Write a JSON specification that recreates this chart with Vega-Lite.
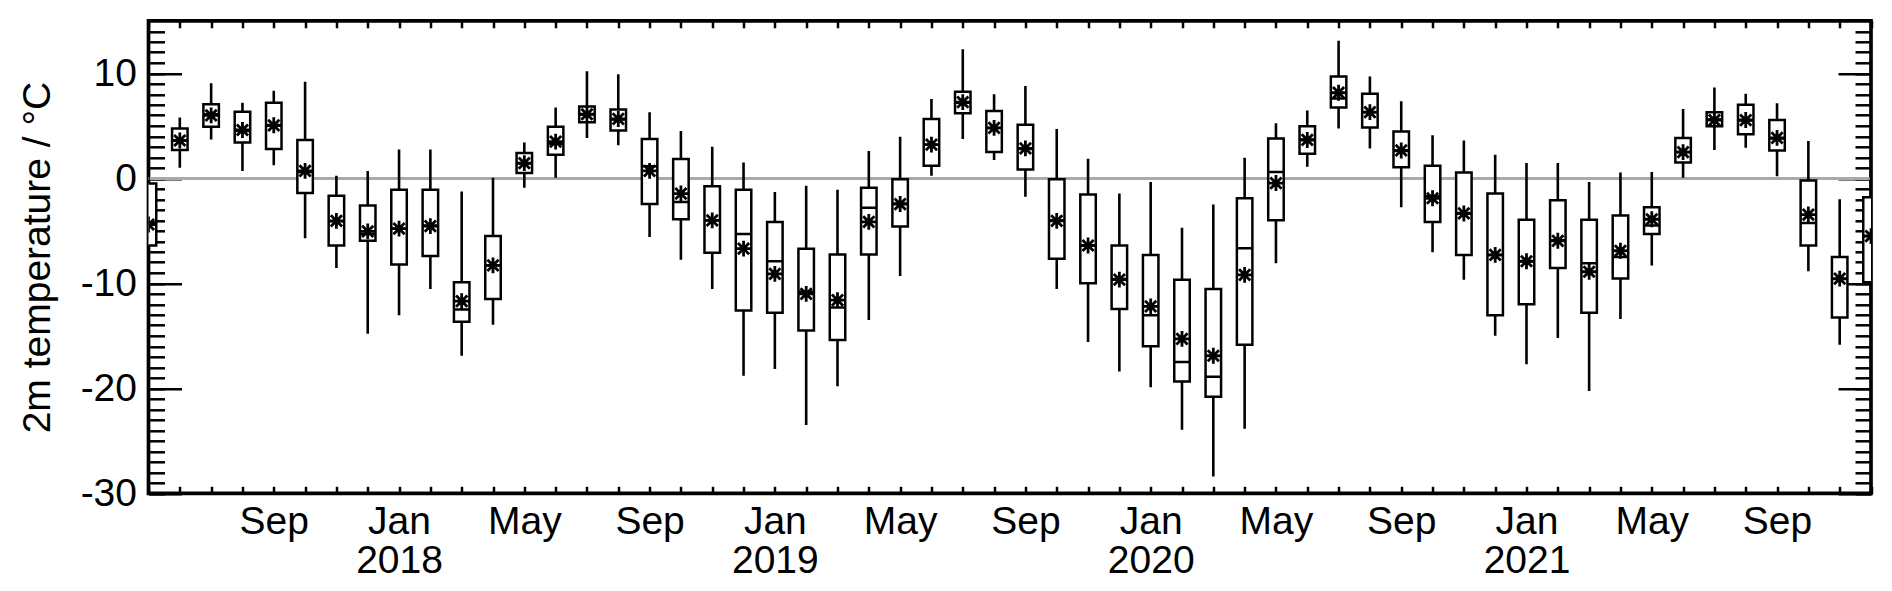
{
  "$schema": "https://vega.github.io/schema/vega-lite/v6.json",
  "autosize": {"type": "none"},
  "padding": {"left": 148.5, "top": 20.8, "right": 21, "bottom": 97.2},
  "width": 1722.5,
  "height": 472.5,
  "background": "white",
  "config": {
    "view": {"stroke": "black", "strokeWidth": 3.7},
    "axis": {
      "labelFont": "Liberation Sans", "titleFont": "Liberation Sans",
      "labelColor": "black", "titleColor": "black", "tickColor": "black",
      "tickWidth": 2.5, "domain": false, "grid": false, "zindex": 1,
      "labelFontSize": 39, "titleFontSize": 39, "titleFontWeight": "normal"
    }
  },
  "data": {"values": [
    {"month": "2017-05", "min": -9.5, "q1": -6.4, "median": -4.2, "q3": -0.5, "max": 1.2, "mean": -4.4},
    {"month": "2017-06", "min": 1.0, "q1": 2.7, "median": 3.6, "q3": 4.75, "max": 5.8, "mean": 3.6},
    {"month": "2017-07", "min": 3.7, "q1": 4.9, "median": 6.1, "q3": 7.05, "max": 9.05, "mean": 6.0},
    {"month": "2017-08", "min": 0.7, "q1": 3.4, "median": 4.5, "q3": 6.35, "max": 7.2, "mean": 4.6},
    {"month": "2017-09", "min": 1.25, "q1": 2.8, "median": 5.0, "q3": 7.2, "max": 8.35, "mean": 5.05},
    {"month": "2017-10", "min": -5.7, "q1": -1.4, "median": 0.6, "q3": 3.65, "max": 9.2, "mean": 0.7},
    {"month": "2017-11", "min": -8.55, "q1": -6.4, "median": -4.1, "q3": -1.65, "max": 0.25, "mean": -4.05},
    {"month": "2017-12", "min": -14.8, "q1": -5.95, "median": -5.3, "q3": -2.6, "max": 0.7, "mean": -5.05},
    {"month": "2018-01", "min": -13.05, "q1": -8.2, "median": -4.8, "q3": -1.1, "max": 2.75, "mean": -4.8},
    {"month": "2018-02", "min": -10.55, "q1": -7.4, "median": -4.5, "q3": -1.1, "max": 2.75, "mean": -4.55},
    {"month": "2018-03", "min": -16.9, "q1": -13.65, "median": -12.5, "q3": -9.9, "max": -1.25, "mean": -11.7},
    {"month": "2018-04", "min": -13.95, "q1": -11.5, "median": -8.3, "q3": -5.5, "max": 0.05, "mean": -8.3},
    {"month": "2018-05", "min": -0.9, "q1": 0.5, "median": 1.4, "q3": 2.4, "max": 3.4, "mean": 1.45},
    {"month": "2018-06", "min": 0.05, "q1": 2.25, "median": 3.3, "q3": 4.9, "max": 6.75, "mean": 3.5},
    {"month": "2018-07", "min": 3.85, "q1": 5.35, "median": 6.1, "q3": 6.85, "max": 10.2, "mean": 6.1},
    {"month": "2018-08", "min": 3.15, "q1": 4.55, "median": 5.6, "q3": 6.55, "max": 9.9, "mean": 5.65},
    {"month": "2018-09", "min": -5.6, "q1": -2.45, "median": 1.15, "q3": 3.75, "max": 6.3, "mean": 0.7},
    {"month": "2018-10", "min": -7.75, "q1": -3.9, "median": -2.25, "q3": 1.85, "max": 4.5, "mean": -1.45},
    {"month": "2018-11", "min": -10.55, "q1": -7.1, "median": -4.0, "q3": -0.75, "max": 3.0, "mean": -4.0},
    {"month": "2018-12", "min": -18.8, "q1": -12.6, "median": -5.3, "q3": -1.1, "max": 1.5, "mean": -6.7},
    {"month": "2019-01", "min": -18.15, "q1": -12.8, "median": -7.9, "q3": -4.15, "max": -1.3, "mean": -9.1},
    {"month": "2019-02", "min": -23.5, "q1": -14.5, "median": -10.8, "q3": -6.7, "max": -0.7, "mean": -11.0},
    {"month": "2019-03", "min": -19.8, "q1": -15.4, "median": -12.3, "q3": -7.25, "max": -1.1, "mean": -11.6},
    {"month": "2019-04", "min": -13.5, "q1": -7.25, "median": -2.8, "q3": -0.9, "max": 2.6, "mean": -4.15},
    {"month": "2019-05", "min": -9.3, "q1": -4.6, "median": -2.4, "q3": -0.1, "max": 3.95, "mean": -2.45},
    {"month": "2019-06", "min": 0.25, "q1": 1.2, "median": 3.2, "q3": 5.65, "max": 7.55, "mean": 3.2},
    {"month": "2019-07", "min": 3.75, "q1": 6.2, "median": 7.2, "q3": 8.25, "max": 12.3, "mean": 7.25},
    {"month": "2019-08", "min": 1.75, "q1": 2.5, "median": 4.8, "q3": 6.4, "max": 8.0, "mean": 4.8},
    {"month": "2019-09", "min": -1.75, "q1": 0.85, "median": 2.8, "q3": 5.1, "max": 8.8, "mean": 2.85},
    {"month": "2019-10", "min": -10.55, "q1": -7.65, "median": -4.0, "q3": -0.1, "max": 4.7, "mean": -4.05},
    {"month": "2019-11", "min": -15.6, "q1": -10.0, "median": -6.4, "q3": -1.55, "max": 1.85, "mean": -6.4},
    {"month": "2019-12", "min": -18.4, "q1": -12.45, "median": -9.6, "q3": -6.4, "max": -1.45, "mean": -9.65},
    {"month": "2020-01", "min": -19.9, "q1": -16.0, "median": -13.05, "q3": -7.3, "max": -0.35, "mean": -12.2},
    {"month": "2020-02", "min": -23.95, "q1": -19.35, "median": -17.5, "q3": -9.65, "max": -4.7, "mean": -15.3},
    {"month": "2020-03", "min": -28.4, "q1": -20.8, "median": -18.9, "q3": -10.55, "max": -2.5, "mean": -16.9},
    {"month": "2020-04", "min": -23.85, "q1": -15.85, "median": -6.65, "q3": -1.9, "max": 1.95, "mean": -9.2},
    {"month": "2020-05", "min": -8.1, "q1": -4.0, "median": 0.6, "q3": 3.8, "max": 5.25, "mean": -0.45},
    {"month": "2020-06", "min": 1.1, "q1": 2.35, "median": 3.7, "q3": 4.95, "max": 6.45, "mean": 3.65},
    {"month": "2020-07", "min": 4.75, "q1": 6.75, "median": 7.6, "q3": 9.7, "max": 13.1, "mean": 8.15},
    {"month": "2020-08", "min": 2.85, "q1": 4.85, "median": 6.3, "q3": 8.05, "max": 9.7, "mean": 6.3},
    {"month": "2020-09", "min": -2.75, "q1": 1.05, "median": 2.6, "q3": 4.45, "max": 7.35, "mean": 2.65},
    {"month": "2020-10", "min": -7.05, "q1": -4.15, "median": -1.7, "q3": 1.2, "max": 4.1, "mean": -1.9},
    {"month": "2020-11", "min": -9.65, "q1": -7.3, "median": -3.3, "q3": 0.55, "max": 3.6, "mean": -3.35},
    {"month": "2020-12", "min": -15.0, "q1": -13.05, "median": -7.3, "q3": -1.45, "max": 2.25, "mean": -7.3},
    {"month": "2021-01", "min": -17.7, "q1": -12.0, "median": -7.9, "q3": -3.95, "max": 1.45, "mean": -7.9},
    {"month": "2021-02", "min": -15.2, "q1": -8.55, "median": -5.9, "q3": -2.1, "max": 1.45, "mean": -5.95},
    {"month": "2021-03", "min": -20.25, "q1": -12.8, "median": -8.1, "q3": -3.95, "max": -0.35, "mean": -8.9},
    {"month": "2021-04", "min": -13.4, "q1": -9.55, "median": -7.5, "q3": -3.55, "max": 0.55, "mean": -6.9},
    {"month": "2021-05", "min": -8.3, "q1": -5.3, "median": -4.5, "q3": -2.75, "max": 0.6, "mean": -3.9},
    {"month": "2021-06", "min": 0.05, "q1": 1.5, "median": 2.5, "q3": 3.85, "max": 6.6, "mean": 2.5},
    {"month": "2021-07", "min": 2.7, "q1": 4.95, "median": 5.6, "q3": 6.3, "max": 8.65, "mean": 5.55},
    {"month": "2021-08", "min": 2.9, "q1": 4.2, "median": 5.5, "q3": 7.0, "max": 8.05, "mean": 5.55},
    {"month": "2021-09", "min": 0.2, "q1": 2.65, "median": 3.8, "q3": 5.55, "max": 7.15, "mean": 3.85},
    {"month": "2021-10", "min": -8.85, "q1": -6.4, "median": -4.25, "q3": -0.2, "max": 3.55, "mean": -3.45},
    {"month": "2021-11", "min": -15.85, "q1": -13.25, "median": -9.6, "q3": -7.5, "max": -2.0, "mean": -9.55},
    {"month": "2021-12", "min": -12.5, "q1": -9.9, "median": -5.5, "q3": -1.8, "max": 0.5, "mean": -5.5}
  ]},
  "resolve": {
    "scale": {"x": "shared", "y": "shared"},
    "axis": {"x": "independent", "y": "independent"}
  },
  "layer": [
    {
      "mark": {"type": "rule", "color": "#a9a9a9", "strokeWidth": 2.5},
      "encoding": {
        "y": {"datum": 0, "type": "quantitative", "axis": null,
              "scale": {"domain": [-30, 15], "nice": false, "zero": false}}
      }
    },
    {
      "mark": {"type": "rule", "color": "black", "strokeWidth": 2.6, "clip": true},
      "encoding": {
        "x": {"field": "month", "type": "ordinal", "sort": "ascending",
              "scale": {"type": "point", "padding": 0},
              "axis": {"orient": "bottom", "title": null, "tickSize": -7, "labelPadding": 16,
                       "labelAngle": 0, "labelOverlap": false, "labelBound": false, "labelFlush": false,
                       "labelLineHeight": 39,
                       "labelExpr": "datum.value == '2017-05' ? '' : slice(datum.value,5)=='09' ? 'Sep' : slice(datum.value,5)=='05' ? 'May' : slice(datum.value,5)=='01' ? ['Jan', slice(datum.value,0,4)] : ''"}},
        "y": {"field": "min", "type": "quantitative",
              "scale": {"domain": [-30, 15], "nice": false, "zero": false},
              "axis": {"orient": "left", "values": [-30, -20, -10, 0, 10], "tickSize": -33,
                       "labelPadding": 45, "labelExpr": "'' + datum.value",
                       "title": "2m temperature / °C", "titlePadding": 23}},
        "y2": {"field": "max"}
      }
    },
    {
      "mark": {"type": "bar", "fill": "white", "stroke": "black", "strokeWidth": 2.5, "size": 15.5, "clip": true},
      "encoding": {
        "x": {"field": "month", "type": "ordinal",
              "axis": {"orient": "top", "title": null, "tickSize": -7, "labels": false}},
        "y": {"field": "q1", "type": "quantitative",
              "axis": {"orient": "left", "title": null, "tickSize": -16, "labels": false,
                       "values": [-30,-29,-28,-27,-26,-25,-24,-23,-22,-21,-20,-19,-18,-17,-16,-15,-14,-13,-12,-11,-10,-9,-8,-7,-6,-5,-4,-3,-2,-1,0,1,2,3,4,5,6,7,8,9,10,11,12,13,14]}},
        "y2": {"field": "q3"}
      }
    },
    {
      "mark": {"type": "tick", "color": "black", "orient": "horizontal", "size": 15.5, "thickness": 2.5, "opacity": 1, "clip": true},
      "encoding": {
        "x": {"field": "month", "type": "ordinal", "axis": null},
        "y": {"field": "median", "type": "quantitative",
              "axis": {"orient": "right", "title": null, "tickSize": -33, "labels": false,
                       "values": [-30, -20, -10, 0, 10]}}
      }
    },
    {
      "mark": {"type": "point", "shape": "M-1,0L1,0M0,-1L0,1M-0.71,-0.71L0.71,0.71M-0.71,0.71L0.71,-0.71",
               "filled": false, "stroke": "black", "strokeWidth": 2.8, "size": 250, "opacity": 1, "clip": true},
      "encoding": {
        "x": {"field": "month", "type": "ordinal", "axis": null},
        "y": {"field": "mean", "type": "quantitative",
              "axis": {"orient": "right", "title": null, "tickSize": -16, "labels": false,
                       "values": [-30,-29,-28,-27,-26,-25,-24,-23,-22,-21,-20,-19,-18,-17,-16,-15,-14,-13,-12,-11,-10,-9,-8,-7,-6,-5,-4,-3,-2,-1,0,1,2,3,4,5,6,7,8,9,10,11,12,13,14]}}
      }
    }
  ]
}
